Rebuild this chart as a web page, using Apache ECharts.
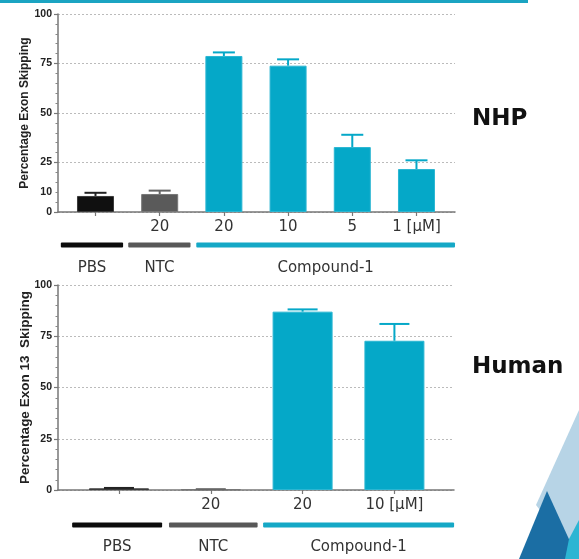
<!DOCTYPE html>
<html><head><meta charset="utf-8">
<script src="https://cdn.jsdelivr.net/npm/echarts@6/dist/echarts.min.js"></script>
<style>html,body{margin:0;padding:0;background:#fff}#c{width:579px;height:559px}</style>
</head><body><div id="c"></div>
<script>
// ---------- NHP panel data ----------
const nhpTickLabels = ['', '20', '20', '10', '5', '1 [μM]'];
const nhpValues     = [8.1, 9.1, 78.8, 73.9, 32.8, 21.7];
const nhpErrorTop   = [9.7, 10.8, 80.6, 77.1, 39.0, 26.1];
const nhpGroupKeys  = ['pbs', 'ntc', 'cmp', 'cmp', 'cmp', 'cmp'];
const nhpYLabels    = [0, 10, 25, 50, 75, 100];
const nhpGroupNames = ['PBS', 'NTC', 'Compound-1'];
const nhpGroupFrom  = [-0.54, 0.51, 1.57];
const nhpGroupTo    = [0.43, 1.48, 5.60];

// ---------- Human panel data ----------
const humanTickLabels = ['', '20', '20', '10 [μM]'];
const humanValues     = [0.8, 0.3, 87.0, 72.8];
const humanErrorTop   = [1.0, 0.4, 88.1, 81.0];
const humanGroupKeys  = ['pbs', 'ntc', 'cmp', 'cmp'];
const humanYLabels    = [0, 25, 50, 75, 100];
const humanGroupNames = ['PBS', 'NTC', 'Compound-1'];
const humanGroupFrom  = [-0.51, 0.545, 1.57];
const humanGroupTo    = [0.47, 1.51, 3.65];

// ---------- styles ----------
const barColors   = {pbs: '#101010', ntc: '#5a5a5a', cmp: '#05a8c8'};
const barBorders  = {pbs: '#3a3a3a', ntc: '#777777', cmp: '#2bb6d2'};
const groupColors = {pbs: '#0c0c0c', ntc: '#585858', cmp: '#15a8c6'};
const groupKeyOrder = ['pbs', 'ntc', 'cmp'];
const axisColor = '#777';

const chart = echarts.init(document.getElementById('c'));

function yAxisCfg(gridIndex, name, labels, nameSize, nameGap) {
  return {
    type: 'value', gridIndex, min: 0, max: 100, interval: 25,
    name, nameLocation: 'middle', nameGap, nameMoveOverlap: false,
    nameTextStyle: {fontFamily: 'Liberation Sans', fontWeight: 'bold', fontSize: nameSize, color: '#222'},
    axisLine: {show: true, onZero: false, lineStyle: {color: axisColor, width: 1.5}},
    axisTick: {show: true, length: 4, lineStyle: {color: axisColor, width: 1.2}},
    minorTick: {show: true, splitNumber: 5, length: 2.5, lineStyle: {color: '#888', width: 1}},
    axisLabel: {customValues: labels, margin: 6, fontFamily: 'Liberation Sans', fontWeight: 'bold', fontSize: 10.5, color: '#222'},
    splitLine: {show: true, lineStyle: {color: '#bbb', type: [2, 2], width: 1}}
  };
}
function xAxisCfg(gridIndex, min, max, labels) {
  const idx = labels.map((_, i) => i);
  return {
    type: 'value', gridIndex, min, max,
    axisLine: {show: true, onZero: false, lineStyle: {color: axisColor, width: 1.5}},
    axisTick: {show: true, customValues: idx, length: 4, lineStyle: {color: axisColor, width: 1.2}},
    axisLabel: {customValues: idx, formatter: v => labels[Math.round(v)], fontFamily: 'DejaVu Sans', fontSize: 15, color: '#333', margin: 8},
    splitLine: {show: false}
  };
}
function barSeries(axisIdx, values, keys, width) {
  return {
    type: 'bar', xAxisIndex: axisIdx, yAxisIndex: axisIdx, barWidth: width, silent: true,
    data: values.map((v, i) => ({value: [i, v], itemStyle: {color: barColors[keys[i]], borderColor: barBorders[keys[i]], borderWidth: 1}}))
  };
}
function errSeries(axisIdx, values, tops, keys, capW) {
  return {
    type: 'custom', xAxisIndex: axisIdx, yAxisIndex: axisIdx, silent: true, clip: false, z: 3,
    data: values.map((v, i) => [i, v, tops[i]]),
    renderItem: (params, api) => {
      const x = api.value(0);
      const p0 = api.coord([x, api.value(1)]);
      const p1 = api.coord([x, api.value(2)]);
      const c = barColors[keys[params.dataIndex]];
      const st = {stroke: c === barColors.pbs ? '#222' : (c === barColors.ntc ? '#666' : c), lineWidth: 2};
      return {type: 'group', children: [
        {type: 'line', shape: {x1: p0[0], y1: p0[1], x2: p1[0], y2: p1[1]}, style: st},
        {type: 'line', shape: {x1: p1[0] - capW / 2, y1: p1[1], x2: p1[0] + capW / 2, y2: p1[1]}, style: st}
      ]};
    }
  };
}
function groupSeries(axisIdx, names, from, to, barOff, textOff) {
  return {
    type: 'custom', xAxisIndex: axisIdx, yAxisIndex: axisIdx, silent: true, clip: false,
    data: from.map((f, i) => [f, to[i]]),
    renderItem: (params, api) => {
      const a = api.coord([api.value(0), 0]);
      const b = api.coord([api.value(1), 0]);
      const key = groupKeyOrder[params.dataIndex];
      return {type: 'group', children: [
        {type: 'rect', shape: {x: a[0], y: a[1] + barOff - 2.5, width: b[0] - a[0], height: 5, r: 1}, style: {fill: groupColors[key]}},
        {type: 'text', style: {text: names[params.dataIndex], x: (a[0] + b[0]) / 2, y: a[1] + textOff,
          align: 'center', verticalAlign: 'middle', fontFamily: 'DejaVu Sans', fontSize: 15, fill: '#333'}}
      ]};
    }
  };
}

chart.setOption({
  animation: false,
  backgroundColor: '#fff',
  grid: [
    {left: 58, right: 124, top: 14, height: 198},
    {left: 58, right: 125, top: 285, height: 205}
  ],
  xAxis: [
    xAxisCfg(0, -0.584, 5.600, nhpTickLabels),
    xAxisCfg(1, -0.664, 3.649, humanTickLabels)
  ],
  yAxis: [
    yAxisCfg(0, 'Percentage Exon Skipping', nhpYLabels, 12, 27),
    yAxisCfg(1, 'Percentage Exon 13  Skipping', humanYLabels, 13.5, 26)
  ],
  series: [
    barSeries(0, nhpValues, nhpGroupKeys, 37),
    errSeries(0, nhpValues, nhpErrorTop, nhpGroupKeys, 22),
    groupSeries(0, nhpGroupNames, nhpGroupFrom, nhpGroupTo, 33, 56),
    barSeries(1, humanValues, humanGroupKeys, 60),
    errSeries(1, humanValues, humanErrorTop, humanGroupKeys, 30),
    groupSeries(1, humanGroupNames, humanGroupFrom, humanGroupTo, 35, 57)
  ],
  graphic: [
    {type: 'rect', left: 0, top: 0, shape: {width: 528, height: 3}, style: {fill: '#1ba4c2'}, silent: true},
    {type: 'text', left: 472, top: 108, style: {text: 'NHP', fontFamily: 'DejaVu Sans', fontWeight: 'bold', fontSize: 23, fill: '#111'}},
    {type: 'text', left: 472, top: 356, style: {text: 'Human', fontFamily: 'DejaVu Sans', fontWeight: 'bold', fontSize: 23, fill: '#111'}},
    {type: 'polygon', shape: {points: [[579, 410], [536, 505], [579, 559]]}, style: {fill: '#b7d4e6'}, silent: true},
    {type: 'polygon', shape: {points: [[547, 491], [519, 559], [578, 559]]}, style: {fill: '#1b6ea4'}, silent: true},
    {type: 'polygon', shape: {points: [[569, 539], [579, 520], [579, 559], [565, 559]]}, style: {fill: '#2cb5d3'}, silent: true}
  ]
});
</script></body></html>
